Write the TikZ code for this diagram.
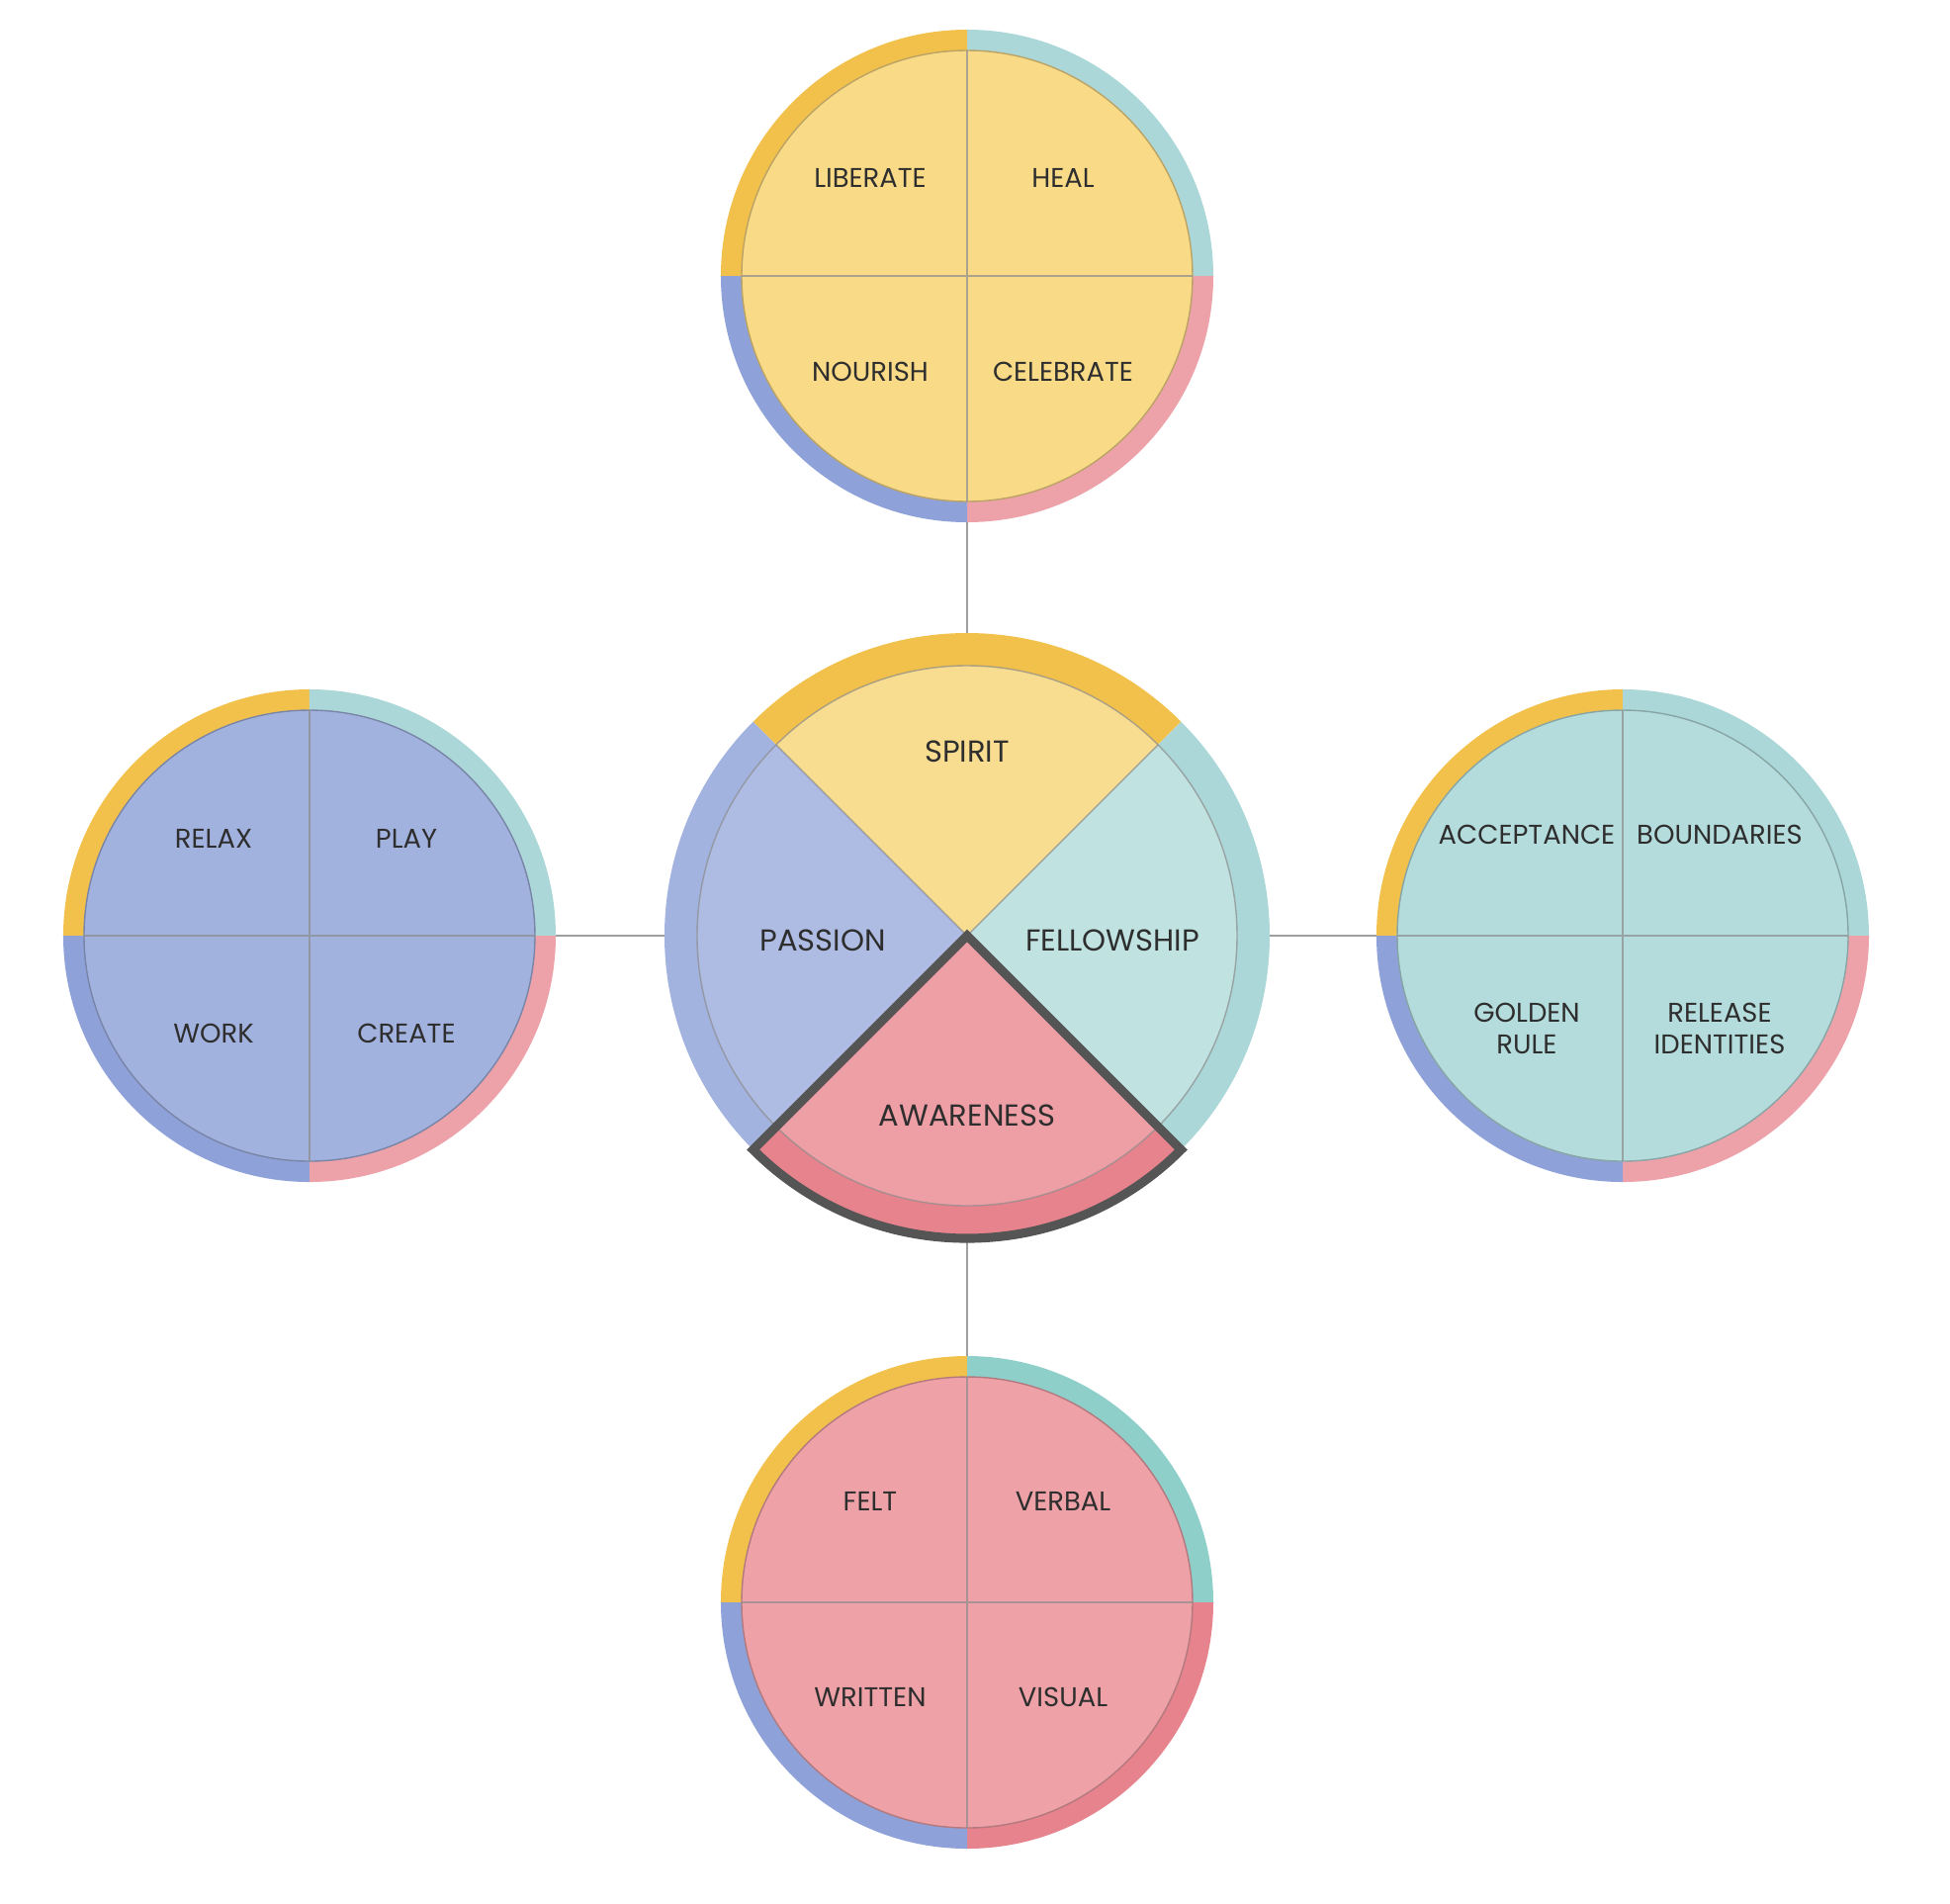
\documentclass[tikz,border=0pt]{standalone}
\usepackage{fontspec}
\setmainfont{Poppins}
\usetikzlibrary{positioning}

\definecolor{bandyellow}{HTML}{F2C14C}
\definecolor{bandteal}{HTML}{ABD7D8}
\definecolor{bandpink}{HTML}{EDA2A9}
\definecolor{bandblue}{HTML}{8EA2D9}
\definecolor{deepteal}{HTML}{8FCFCA}
\definecolor{deepred}{HTML}{E7838C}
\definecolor{fillyellow}{HTML}{F9DA86}
\definecolor{fillblue}{HTML}{A2B2DF}
\definecolor{fillteal}{HTML}{B5DCDC}
\definecolor{fillpink}{HTML}{EEA2A8}
\definecolor{hubyellow}{HTML}{F8DC90}
\definecolor{hubblue}{HTML}{AEBCE3}
\definecolor{hubteal}{HTML}{C0E2E1}
\definecolor{hubpink}{HTML}{EE9FA5}
\definecolor{hubband}{HTML}{A3B3DF}
\definecolor{textgray}{HTML}{2E2E2E}
\definecolor{outline}{HTML}{555555}

% one small wheel: #1 node, #2 fill, #3 NE band, #4 SE band
\newcommand{\drawwheel}[4]{%
  \begin{scope}[shift={(#1.center)}]
    \fill[bandyellow] (0,0) -- (90:2.49) arc (90:180:2.49) -- cycle;
    \fill[#3] (0,0) -- (0:2.49) arc (0:90:2.49) -- cycle;
    \fill[#4] (0,0) -- (270:2.49) arc (270:360:2.49) -- cycle;
    \fill[bandblue] (0,0) -- (180:2.49) arc (180:270:2.49) -- cycle;
    \filldraw[fill=#2, draw=#2!75!black, line width=0.4pt] (0,0) circle (2.28);
    \draw[divider] (-2.28,0) -- (2.28,0) (0,-2.28) -- (0,2.28);
  \end{scope}}

\begin{document}
\begin{tikzpicture}[
    hub/.style={circle, minimum size=6.12cm, inner sep=0pt, outer sep=0pt},
    wheel/.style={circle, minimum size=4.98cm, inner sep=0pt, outer sep=0pt},
    link/.style={draw=gray!75, line width=0.8pt},
    divider/.style={draw=black!45, line width=0.4pt, opacity=0.7},
    lbl/.style={text=textgray, font=\fontsize{7.8}{9}\selectfont, align=center, inner sep=0pt},
    biglbl/.style={text=textgray, font=\fontsize{8.7}{10}\selectfont, inner sep=0pt}]
    \useasboundingbox (-9.78,-9.78) rectangle (9.94,9.46);

    \node[hub] (hub) at (0,0) {};
    \node[wheel, above=1.12cm of hub] (spiritwheel) {};
    \node[wheel, left=1.10cm of hub] (passionwheel) {};
    \node[wheel, right=1.08cm of hub] (fellowwheel) {};
    \node[wheel, below=1.19cm of hub] (awarewheel) {};

    \draw[link] (hub) -- (spiritwheel);
    \draw[link] (hub) -- (passionwheel);
    \draw[link] (hub) -- (fellowwheel);
    \draw[link] (hub) -- (awarewheel);

    % centre wheel
    \fill[bandyellow] (0,0) -- (45:3.06) arc (45:135:3.06) -- cycle;
    \fill[hubband] (0,0) -- (135:3.06) arc (135:225:3.06) -- cycle;
    \fill[bandteal] (0,0) -- (-45:3.06) arc (-45:45:3.06) -- cycle;
    \fill[deepred] (0,0) -- (225:3.06) arc (225:315:3.06) -- cycle;
    \fill[hubyellow] (0,0) -- (45:2.73) arc (45:135:2.73) -- cycle;
    \fill[hubblue] (0,0) -- (135:2.73) arc (135:225:2.73) -- cycle;
    \fill[hubteal] (0,0) -- (-45:2.73) arc (-45:45:2.73) -- cycle;
    \fill[hubpink] (0,0) -- (225:2.73) arc (225:315:2.73) -- cycle;
    \draw[divider] (0,0) circle (2.73);
    \draw[divider] (45:2.73) -- (225:2.73) (135:2.73) -- (315:2.73);
    \draw[outline, line width=2.6pt, line join=miter] (0,0) -- (225:3.06) arc (225:315:3.06) -- cycle;

    \node[biglbl] (spirit) at (0,1.86) {SPIRIT};
    \node[biglbl] (passion) at (-1.46,-0.05) {PASSION};
    \node[biglbl] (fellowship) at (1.47,-0.05) {FELLOWSHIP};
    \node[biglbl] (awareness) at (0,-1.82) {AWARENESS};

    % outer wheels
    \drawwheel{spiritwheel}{fillyellow}{bandteal}{bandpink}
    \drawwheel{passionwheel}{fillblue}{bandteal}{bandpink}
    \drawwheel{fellowwheel}{fillteal}{bandteal}{bandpink}
    \drawwheel{awarewheel}{fillpink}{deepteal}{deepred}

    \node[lbl] (liberate) at ([shift={(-0.98,0.99)}]spiritwheel.center) {LIBERATE};
    \node[lbl] (heal) at ([shift={(0.97,0.99)}]spiritwheel.center) {HEAL};
    \node[lbl] (nourish) at ([shift={(-0.98,-0.97)}]spiritwheel.center) {NOURISH};
    \node[lbl] (celebrate) at ([shift={(0.97,-0.97)}]spiritwheel.center) {CELEBRATE};

    \node[lbl] (relax) at ([shift={(-0.97,0.98)}]passionwheel.center) {RELAX};
    \node[lbl] (play) at ([shift={(0.98,0.98)}]passionwheel.center) {PLAY};
    \node[lbl] (work) at ([shift={(-0.97,-0.99)}]passionwheel.center) {WORK};
    \node[lbl] (create) at ([shift={(0.98,-0.99)}]passionwheel.center) {CREATE};

    \node[lbl] (acceptance) at ([shift={(-0.97,1.02)}]fellowwheel.center) {ACCEPTANCE};
    \node[lbl] (boundaries) at ([shift={(0.98,1.02)}]fellowwheel.center) {BOUNDARIES};
    \node[lbl] (golden) at ([shift={(-0.97,-0.94)}]fellowwheel.center) {GOLDEN\\RULE};
    \node[lbl] (release) at ([shift={(0.98,-0.94)}]fellowwheel.center) {RELEASE\\IDENTITIES};

    \node[lbl] (felt) at ([shift={(-0.98,1.02)}]awarewheel.center) {FELT};
    \node[lbl] (verbal) at ([shift={(0.97,1.02)}]awarewheel.center) {VERBAL};
    \node[lbl] (written) at ([shift={(-0.98,-0.96)}]awarewheel.center) {WRITTEN};
    \node[lbl] (visual) at ([shift={(0.97,-0.96)}]awarewheel.center) {VISUAL};
\end{tikzpicture}
\end{document}
